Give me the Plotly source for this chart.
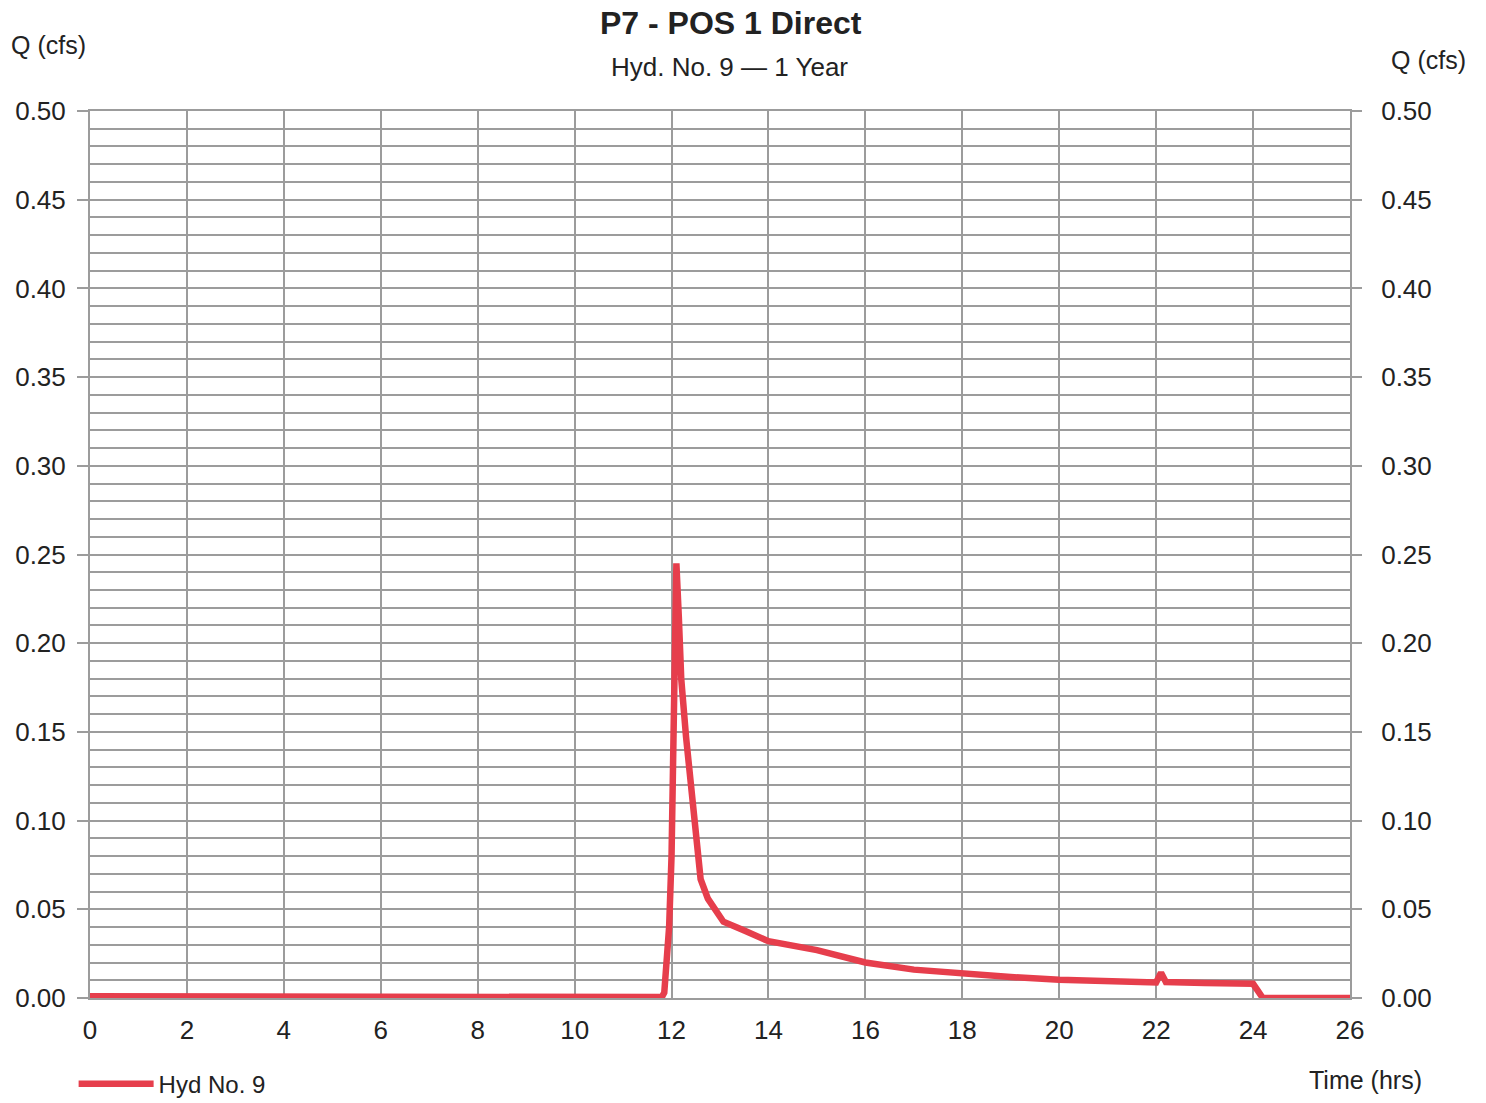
import plotly.graph_objects as go

time_hrs = [0, 2, 4, 6, 8, 10, 11.8, 11.85, 11.9, 11.95, 12.0, 12.05, 12.1, 12.15, 12.2,
            12.3, 12.4, 12.5, 12.55, 12.6, 12.75, 13.07, 13.5, 14, 15, 16, 17, 18, 19, 20,
            21, 22, 22.1, 22.2, 23, 24, 24.1, 24.2, 25, 26]
flow_cfs = [0.001, 0.001, 0.0008, 0.0008, 0.0006, 0.0005, 0.0005, 0.003, 0.018, 0.040, 0.080,
            0.160, 0.245, 0.215, 0.180, 0.147, 0.120, 0.095, 0.084, 0.067, 0.056, 0.043,
            0.038, 0.032, 0.027, 0.020, 0.016, 0.0135, 0.0118, 0.0103, 0.0095, 0.0088,
            0.0143, 0.009, 0.0085, 0.008, 0.004, 0.0, 0.0, 0.0]
x_ticks = list(range(0, 27, 2))
y_ticks = [0.00, 0.05, 0.10, 0.15, 0.20, 0.25, 0.30, 0.35, 0.40, 0.45, 0.50]

FONT = "Liberation Sans, Arial, sans-serif"
GRID = "#9c9c9c"
TXT = "#222222"
RED = "#e63e4c"

fig = go.Figure()
fig.add_trace(go.Scatter(x=time_hrs, y=flow_cfs, mode="lines", name="Hyd No. 9",
                         line=dict(color=RED, width=6.5), cliponaxis=False))
fig.add_trace(go.Scatter(x=time_hrs, y=flow_cfs, mode="lines", yaxis="y2",
                         line=dict(color=RED, width=0), opacity=0, showlegend=False,
                         hoverinfo="skip"))

yfmt = dict(range=[0, 0.5], tickvals=y_ticks, ticktext=[f"{v:.2f}" for v in y_ticks],
            ticks="outside", ticklen=11, tickwidth=2, tickcolor=GRID,
            tickfont=dict(family=FONT, size=26, color=TXT), zeroline=False)

fig.update_layout(
    width=1486, height=1103,
    margin=dict(l=90, r=136, t=111, b=105, autoexpand=False),
    paper_bgcolor="white", plot_bgcolor="white",
    showlegend=True,
    legend=dict(x=-0.013, y=-0.097, xanchor="left", yanchor="middle",
                font=dict(family=FONT, size=24, color=TXT), itemwidth=75,
                bgcolor="rgba(0,0,0,0)"),
    xaxis=dict(range=[0, 26], tickvals=x_ticks, ticks="", showgrid=True,
               gridcolor=GRID, gridwidth=2, showline=True, linecolor=GRID, linewidth=2,
               mirror=True, zeroline=False, ticklabelstandoff=8,
               tickfont=dict(family=FONT, size=26, color=TXT)),
    yaxis=dict(**yfmt, showgrid=True, gridcolor=GRID, gridwidth=2,
               minor=dict(dtick=0.01, showgrid=True, gridcolor=GRID, gridwidth=2),
               showline=True, linecolor=GRID, linewidth=2, mirror=True,
               ticklabelstandoff=6),
    yaxis2=dict(**yfmt, overlaying="y", side="right", showgrid=False,
                showline=False, ticklabelstandoff=14),
    annotations=[
        dict(text="<b>P7 - POS 1 Direct</b>", x=0.5, y=1.0, xref="paper", yref="paper",
             yanchor="middle", xanchor="center", xshift=11, yshift=(111 - 23), showarrow=False,
             font=dict(family=FONT, size=32, color=TXT)),
        dict(text="Hyd. No. 9 \u2014 1 Year", x=0.5, y=1.0, xref="paper", yref="paper",
             yanchor="middle", xanchor="center", xshift=9, yshift=(111 - 67), showarrow=False,
             font=dict(family=FONT, size=26, color=TXT)),
        dict(text="Q (cfs)", x=0, y=1.0, xref="paper", yref="paper",
             xanchor="center", yanchor="middle", xshift=48 - 90, yshift=111 - 45,
             showarrow=False, font=dict(family=FONT, size=25, color=TXT)),
        dict(text="Q (cfs)", x=1, y=1.0, xref="paper", yref="paper",
             xanchor="center", yanchor="middle", xshift=1428 - 1350, yshift=111 - 60,
             showarrow=False, font=dict(family=FONT, size=25, color=TXT)),
        dict(text="Time (hrs)", x=1, y=0, xref="paper", yref="paper",
             xanchor="center", yanchor="middle", xshift=1365 - 1350, yshift=998 - 1080,
             showarrow=False, font=dict(family=FONT, size=25, color=TXT)),
    ],
)

fig.write_html("out.html")
